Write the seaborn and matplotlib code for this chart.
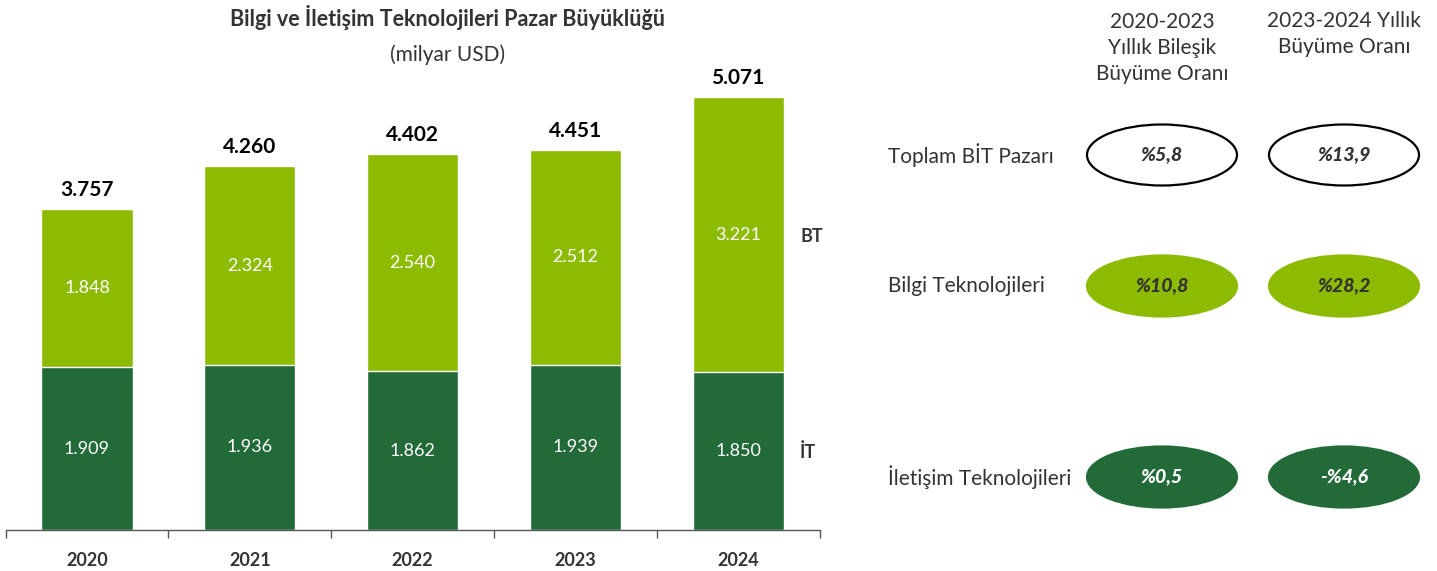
import matplotlib
matplotlib.use("Agg")
import matplotlib.pyplot as plt
from matplotlib.patches import Ellipse
import pandas as pd
import seaborn as sns

years = ["2020", "2021", "2022", "2023", "2024"]
it_values = [1909, 1936, 1862, 1939, 1850]
bt_values = [1848, 2324, 2540, 2512, 3221]
totals = [3757, 4260, 4402, 4451, 5071]

row_labels = ["Toplam BİT Pazarı", "Bilgi Teknolojileri", "İletişim Teknolojileri"]
col_headers = ["2020-2023\nYıllık Bileşik\nBüyüme Oranı", "2023-2024 Yıllık\nBüyüme Oranı"]
cagr = ["%5,8", "%10,8", "%0,5"]
yoy = ["%13,9", "%28,2", "-%4,6"]

light = "#8CBB02"
dark = "#226B39"
txt = "#333333"

sns.set_theme(style="white")
plt.rcParams["font.family"] = ["Lato", "DejaVu Sans"]

def fmt(v):
    return f"{v:,}".replace(",", ".")

df = pd.DataFrame({"year": years, "it": it_values, "bt": bt_values, "total": totals})

fig = plt.figure(figsize=(14.37, 5.71), dpi=100)
ax = fig.add_axes([0.0039, 0.0718, 0.5664, 0.8967])

sns.barplot(data=df, x="year", y="total", color=light, width=0.56, saturation=1, ax=ax)
sns.barplot(data=df, x="year", y="it", color=dark, width=0.56, saturation=1, ax=ax)

ax.set_xlim(-0.5, 4.5)
ax.set_ylim(0, 6000)
for s in ["top", "right", "left"]:
    ax.spines[s].set_visible(False)
ax.spines["bottom"].set_color("#555555")
ax.spines["bottom"].set_linewidth(1)
ax.set_yticks([])
ax.set_xlabel("")
ax.set_ylabel("")
ax.set_xticks([-0.5, 0.5, 1.5, 2.5, 3.5, 4.5], minor=False)
ax.set_xticklabels([])
ax.tick_params(axis="x", which="major", bottom=True, length=6, color="#555555", width=1)
ax.set_xticks(range(len(years)), minor=True)
ax.set_xticklabels(years, minor=True, fontsize=13, fontweight="bold", color=txt)
ax.tick_params(axis="x", which="minor", bottom=False, pad=12)

for i in range(len(years)):
    ax.text(i, it_values[i] / 2, fmt(it_values[i]), ha="center", va="center",
            color="white", fontsize=13)
    ax.text(i, it_values[i] + bt_values[i] / 2, fmt(bt_values[i]), ha="center",
            va="center", color="white", fontsize=13)
    ax.text(i, totals[i] + 110, fmt(totals[i]), ha="center", va="bottom",
            color="black", fontsize=15, fontweight="bold")

# overlay in pixel coordinates for titles and the growth table
ov = fig.add_axes([0, 0, 1, 1], facecolor="none")
ov.set_xlim(0, 1437)
ov.set_ylim(571, 0)
ov.axis("off")

ov.text(448, 17, "Bilgi ve İletişim Teknolojileri Pazar Büyüklüğü", ha="center",
        va="center", fontsize=15.5, fontweight="bold", color=txt)
ov.text(448, 55, "(milyar USD)", ha="center", va="center", fontsize=15, color=txt)
ov.text(800, 236, "BT", ha="left", va="center", fontsize=13, fontweight="bold", color=txt)
ov.text(800, 452, "İT", ha="left", va="center", fontsize=13, fontweight="bold", color=txt)

col_x = [1162, 1344]
ov.text(col_x[0], 48, col_headers[0], ha="center", va="center", fontsize=15,
        color=txt, linespacing=1.35)
ov.text(col_x[1], 34, col_headers[1], ha="center", va="center", fontsize=15,
        color=txt, linespacing=1.35)

row_y = [155, 286, 477]
faces = ["white", light, dark]
edges = ["black", light, dark]
val_colors = [txt, txt, "white"]
for r in range(3):
    ov.text(888, row_y[r], row_labels[r], ha="left", va="center", fontsize=15, color=txt)
    for c, vals in enumerate([cagr, yoy]):
        e = Ellipse((col_x[c], row_y[r]), 150, 61, facecolor=faces[r],
                    edgecolor=edges[r], linewidth=1.6)
        ov.add_patch(e)
        ov.text(col_x[c], row_y[r], vals[r], ha="center", va="center", fontsize=14,
                fontweight="black", fontstyle="italic", color=val_colors[r])

fig.savefig("out.png", dpi=100)
